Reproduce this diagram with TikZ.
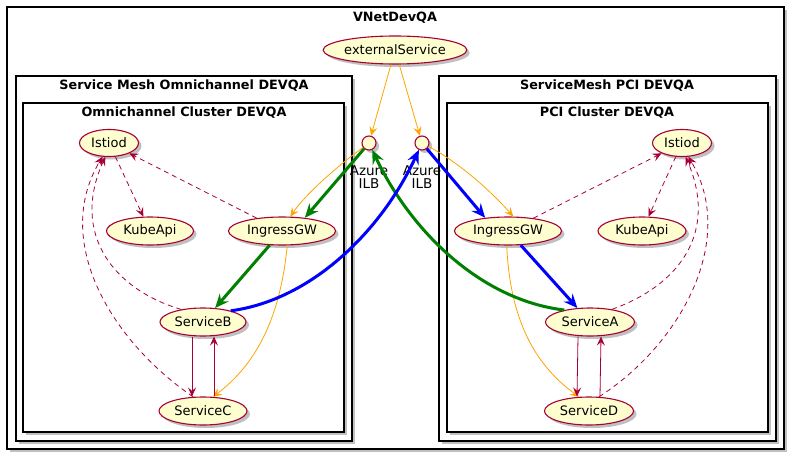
\documentclass[tikz,border=0pt]{standalone}
\usepackage{fontspec}
\setmainfont{DejaVu Sans}
\usetikzlibrary{arrows.meta,shapes.geometric,shadows}
\definecolor{nodefill}{HTML}{FEFECE}
\definecolor{nodeline}{HTML}{A80036}
\definecolor{orng}{HTML}{FFA500}
\definecolor{grn}{HTML}{008000}
\definecolor{blu}{HTML}{0000FF}
\begin{document}
\begin{tikzpicture}[x=1pt,y=-1pt,
  shad/.style={drop shadow={shadow xshift=3pt,shadow yshift=-3pt,opacity=0.35,fill=black!70}},
  uc/.style={ellipse, draw=nodeline, fill=nodefill, line width=1.1pt, inner sep=0pt, minimum height=28pt, font=\fontsize{13}{15}\selectfont, shad},
  ilb/.style={circle, draw=nodeline, fill=nodefill, line width=1.1pt, minimum size=14pt, inner sep=0pt, shad},
  frame/.style={draw=black, line width=1.3pt, fill=white, shad},
  ttl/.style={font=\bfseries\fontsize{12.8}{15}\selectfont},
  lbl/.style={font=\fontsize{13.5}{15}\selectfont, align=center},
  thinarr/.style={line width=0.8pt, -{Stealth[length=9pt,width=8pt,inset=3.5pt]}},
  thickarr/.style={line width=3pt, -{Stealth[length=14pt,width=12pt,inset=5pt]}},
  orangearr/.style={thinarr, draw=orng},
  redarr/.style={thinarr, draw=nodeline},
  dasharr/.style={thinarr, draw=nodeline, dash pattern=on 5pt off 4pt},
]
\useasboundingbox (0,0) rectangle (795,460);
\fill[white] (0,0) rectangle (795,460);

% frames
\draw[frame] (7,7) rectangle (784,449);
\node[ttl] (tVNet) at (395,18) {VNetDevQA};
\draw[frame] (16,76) rectangle (352,441);
\node[ttl] (tMeshL) at (184,86) {Service Mesh Omnichannel DEVQA};
\draw[frame] (23,103) rectangle (344,432);
\node[ttl] (tClL) at (184,113) {Omnichannel Cluster DEVQA};
\draw[frame] (439,76) rectangle (776,441);
\node[ttl] (tMeshR) at (607,86) {ServiceMesh PCI DEVQA};
\draw[frame] (447,103) rectangle (768,432);
\node[ttl] (tClR) at (607,113) {PCI Cluster DEVQA};

% nodes
\node[uc, minimum width=140pt] (ext) at (395,50) {externalService};
\node[ilb] (ilbL) at (369,143) {};
\node[ilb] (ilbR) at (422,143) {};
\node[lbl] (ilbLt) at (369,177) {Azure\\[-2pt]ILB};
\node[lbl] (ilbRt) at (422,177) {Azure\\[-2pt]ILB};

\node[uc, minimum width=59pt, minimum height=27pt] (istL) at (109,143) {Istiod};
\node[uc, minimum width=87pt] (kubeL) at (150,231) {KubeApi};
\node[uc, minimum width=107pt] (igL) at (282,231) {IngressGW};
\node[uc, minimum width=86pt] (sB) at (203,322) {ServiceB};
\node[uc, minimum width=88pt] (sC) at (203,411) {ServiceC};

\node[uc, minimum width=59pt, minimum height=27pt] (istR) at (682,143) {Istiod};
\node[uc, minimum width=88pt] (kubeR) at (642,231) {KubeApi};
\node[uc, minimum width=107pt] (igR) at (508,231) {IngressGW};
\node[uc, minimum width=89pt] (sA) at (590,322) {ServiceA};
\node[uc, minimum width=89pt] (sD) at (589,411) {ServiceD};

% orange edges
\draw[orangearr] (ext) -- (ilbL);
\draw[orangearr] (ext) -- (ilbR);
\draw[orangearr] (ilbL) .. controls (335,168) and (305,195) .. (igL.60);
\draw[orangearr] (ilbR) .. controls (458,162) and (490,190) .. (igR.70);
\draw[orangearr] (igL.290) .. controls (280,320) and (255,365) .. (sC.55);
\draw[orangearr] (igR.265) .. controls (510,320) and (535,365) .. (sD.125);

% green path
\draw[thickarr, draw=grn] (sA.155) .. controls (480,300) and (410,230) .. (ilbL);
\draw[thickarr, draw=grn] (ilbL) -- (igL.30);
\draw[thickarr, draw=grn] (igL) -- (sB);

% blue path
\draw[thickarr, draw=blu] (sB.22) .. controls (312,300) and (382,230) .. (ilbR);
\draw[thickarr, draw=blu] (ilbR) -- (igR.150);
\draw[thickarr, draw=blu] (igR) -- (sA);

% left cluster red edges
\draw[dasharr] (igL) -- (istL);
\draw[dasharr] (istL) -- (kubeL);
\draw[dasharr] (sB.150) .. controls (115,290) and (70,235) .. (istL.255);
\draw[dasharr] (sC.125) .. controls (110,340) and (52,240) .. (istL.245);
\draw[redarr] ([xshift=-11pt]sB.south) -- ([xshift=-11pt]sC.north);
\draw[redarr] ([xshift=11pt]sC.north) -- ([xshift=11pt]sB.south);

% right cluster red edges
\draw[dasharr] (igR) -- (istR);
\draw[dasharr] (istR) -- (kubeR);
\draw[dasharr] (sA.30) .. controls (680,285) and (718,232) .. (istR.285);
\draw[dasharr] (sD.55) .. controls (680,345) and (738,240) .. (istR.295);
\draw[redarr] ([xshift=-12pt]sA.south) -- ([xshift=-12pt]sD.north);
\draw[redarr] ([xshift=11pt]sD.north) -- ([xshift=11pt]sA.south);
\end{tikzpicture}
\end{document}
